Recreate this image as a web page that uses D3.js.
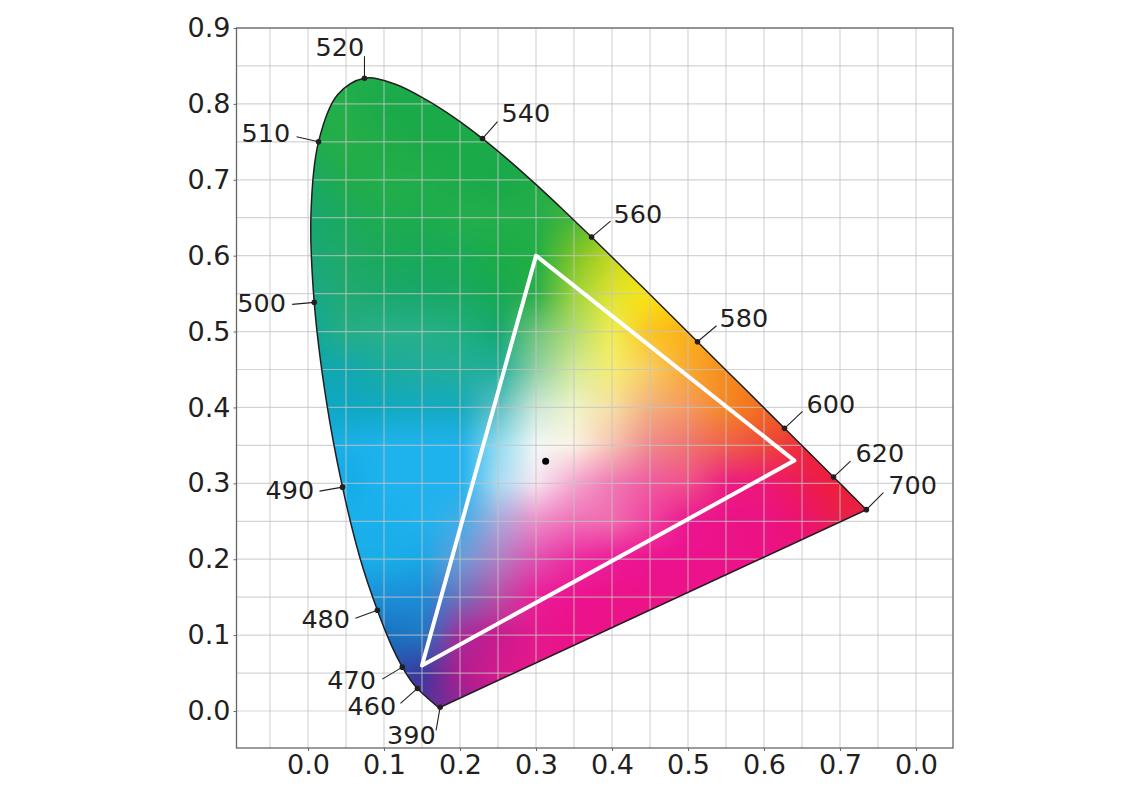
<!DOCTYPE html>
<html><head><meta charset="utf-8">
<script src="https://cdn.jsdelivr.net/npm/d3@7"></script>
<style>html,body{margin:0;padding:0;background:#fff}svg{display:block}text{font-family:"DejaVu Sans",sans-serif;fill:#231f20}</style>
</head><body><svg id="c" width="1140" height="788"></svg>
<script>
const locusX=[.1741,.1738,.1733,.1726,.1714,.1689,.1644,.1566,.1510,.1440,.1355,.1241,.1096,.0913,.0687,.0454,.0235,.0082,.0039,.0139,.0389,.0743,.1142,.1547,.1929,.2296,.2658,.3016,.3373,.3731,.4087,.4441,.4788,.5125,.5448,.5752,.6029,.6270,.6482,.6658,.6915,.7079,.7190,.7347];
const locusY=[.0050,.0049,.0048,.0048,.0051,.0069,.0109,.0177,.0227,.0297,.0399,.0578,.0868,.1327,.2007,.2950,.4127,.5384,.6548,.7502,.8120,.8338,.8262,.8059,.7816,.7543,.7243,.6923,.6589,.6245,.5896,.5547,.5202,.4866,.4544,.4242,.3965,.3725,.3514,.3340,.3083,.2920,.2809,.2653];
const markLabels=["390","460","470","480","490","500","510","520","540","560","580","600","620","700"];
const markX=[.1738,.1440,.1241,.0913,.0454,.0082,.0139,.0743,.2296,.3731,.5125,.6270,.6915,.7347];
const markY=[.0049,.0297,.0578,.1327,.2950,.5384,.7502,.8338,.7543,.6245,.4866,.3725,.3083,.2653];
const gamutX=[.30,.64,.15];
const gamutY=[.60,.33,.06];
const whitePoint=[.3127,.329];
const xTickValues=[0,.1,.2,.3,.4,.5,.6,.7,.8];
const xTickLabels=["0.0","0.1","0.2","0.3","0.4","0.5","0.6","0.7","0.0"];
const yTickValues=[0,.1,.2,.3,.4,.5,.6,.7,.8,.9];
// colours at x = 0, .05 ... .75 (columns) and y = .85, .80 ... 0 (rows)
const colorColumns=[0,.05,.10,.15,.20,.25,.30,.35,.40,.45,.50,.55,.60,.65,.70,.75];
const colorRowsY=[.85,.80,.75,.70,.65,.60,.55,.50,.45,.40,.35,.30,.25,.20,.15,.10,.05,0];
const colorRows=[
"1fae4a 1fae4a 1fae4a 1fae4a 1fae4a 1fae4a 1fae4a 1fae4a 1fae4a 1fae4a 1fae4a 1fae4a 1fae4a 1fae4a 1fae4a 1fae4a",
"22ae4a 22ae4a 1aaa4a 1aaa4a 1caa4a 1caa4a 1caa4a 1caa4a 1caa4a 1caa4a 1caa4a 1caa4a 1caa4a 1caa4a 1caa4a 1caa4a",
"1eac50 26ae48 1fac48 1caa48 1aaa48 1aaa48 1faa48 1faa48 1faa48 1faa48 1faa48 1faa48 1faa48 1faa48 1faa48 1faa48",
"1aa866 20ac4c 22ae4a 20ad4a 1cab4a 18a94a 20ac48 30b03c 30b03c 30b03c 30b03c 30b03c 30b03c 30b03c 30b03c 30b03c",
"16a872 1aaa5c 1fac50 1dab4e 22ae4c 22ae4a 22ae48 45b63a 7cc42a 7cc42a 7cc42a 7cc42a 7cc42a 7cc42a 7cc42a 7cc42a",
"1aa878 1fa966 1aa95a 18a958 18aa54 1aac48 20ae44 7cc428 c4d81e e8e010 e8e010 e8e010 e8e010 e8e010 e8e010 e8e010",
"1aa88a 20aa72 1ba86e 17a86a 1aa960 16a952 2aae48 9ed43a e0e430 fbe60c f8d010 f8d010 f8d010 f8d010 f8d010 f8d010",
"0fa89a 24ae84 28b08a 28b088 1faf80 14a970 70c47c b0dc70 f2ee50 fcc41e fbb015 f8a016 f8a016 f8a016 f8a016 f8a016",
"0ea8b0 12a8b0 1aaba0 1fad9c 22ae9a 20ae9c 8fd0a4 d4ea98 f5ee70 f9cc60 f9a830 f68c1a f47a1c f47a1c f47a1c f47a1c",
"0ea8c4 0ea8c4 12a9c0 14aac4 14aabe 60c0c4 cce8d8 eef4c8 f6e0a4 f3b07c f59a60 f58822 f26a1f f0601e f0601e f0601e",
"1ab0e8 1ab0e8 1fb3ee 1fb3ee 20b2ee 8fdcf0 f2f9f8 fdf2e4 f7c2b2 f0888c f07470 f0604e ee4a3c ee2a3c ec2030 ec2030",
"12ace8 12ace8 1fb3ee 1fb3ee 1eb2ee a8dcf4 f8e6f2 f4a6d0 f078b4 f05aa0 f0508c ec1c84 ee1678 ed1a58 ee1e38 ee2030",
"1ab0ec 1ab0ec 1ab0ec 1fb2ee 40aee8 a8a8dc ee8cc8 f070b8 f06cb0 f040a0 ec1590 ec1288 ec1284 ec1270 e8204c e8204c",
"1aaee8 1aaee8 1aaee8 1aa8e6 6a9cd8 b080c4 e050b0 ee2aa0 ec1a98 ec1290 ec128c ec1288 ec1286 ec1286 ec1286 ec1286",
"1a90d8 1a90d8 1a90d8 1c8cd8 7070bc b850a8 ec1c98 ec1290 ec1288 ec1288 ec1288 ec1288 ec1288 ec1288 ec1288 ec1288",
"1a70c0 1a70c0 1a70c0 1f78c4 a82a98 c81a8e e5188c ec1288 ec1288 ec1288 ec1288 ec1288 ec1288 ec1288 ec1288 ec1288",
"2a50aa 2a50aa 2a50aa 3a389e b01d8e d41a8c e5188c ec1288 ec1288 ec1288 ec1288 ec1288 ec1288 ec1288 ec1288 ec1288",
"3a389e 3a389e 3a389e 5a3099 8a2a98 c01a8c e5188c ec1288 ec1288 ec1288 ec1288 ec1288 ec1288 ec1288 ec1288 ec1288"
];
const W=1140,H=788;
const x=d3.scaleLinear().domain([0,.8]).range([308,916]);
const y=d3.scaleLinear().domain([0,.9]).range([711,28]);
const svg=d3.select("#c");
svg.append("rect").attr("width",W).attr("height",H).attr("fill","#fff");
const xMin=x.invert(236.5),xMax=x.invert(953),yMin=y.invert(748),yMax=.9;
const pts=locusX.map((d,i)=>[x(d),y(locusY[i])]);
const line=d3.line().curve(d3.curveCatmullRom.alpha(.5));
const table=colorRows.map(r=>r.split(" ").map(h=>d3.rgb("#"+h)));
const colIdx=d3.scaleLinear().domain([x(colorColumns[0]),x(colorColumns[colorColumns.length-1])]).range([0,colorColumns.length-1]).clamp(true);
const rowIdx=d3.scaleLinear().domain([y(colorRowsY[0]),y(colorRowsY[colorRowsY.length-1])]).range([0,colorRowsY.length-1]).clamp(true);
const S=3,cv=document.createElement("canvas");cv.width=Math.ceil(W/S);cv.height=Math.ceil(H/S);
const ctx=cv.getContext("2d"),img=ctx.createImageData(cv.width,cv.height);
for(let j=0;j<cv.height;j++)for(let i=0;i<cv.width;i++){
  const px=i*S+S/2,py=j*S+S/2;
  if(px<290||px>880||py<60||py>720)continue;
  const u=colIdx(px),v=rowIdx(py);
  const c0=Math.min(Math.floor(u),colorColumns.length-2),r0=Math.min(Math.floor(v),colorRowsY.length-2);
  const fu=u-c0,fv=v-r0,o=(j*cv.width+i)*4;
  ["r","g","b"].forEach((k,n)=>{
    img.data[o+n]=(1-fv)*((1-fu)*table[r0][c0][k]+fu*table[r0][c0+1][k])+fv*((1-fu)*table[r0+1][c0][k]+fu*table[r0+1][c0+1][k]);
  });
  img.data[o+3]=255;
}
ctx.putImageData(img,0,0);
const areaPath=line(pts)+"Z";
svg.append("clipPath").attr("id","loc").append("path").attr("d",areaPath);
svg.append("image").attr("href",cv.toDataURL()).attr("x",0).attr("y",0).attr("width",cv.width*S).attr("height",cv.height*S).attr("preserveAspectRatio","none").attr("clip-path","url(#loc)");
const gx=d3.range(-.05,.8001,.05),gy=d3.range(0,.9001,.05);
const grid=svg.append("g").attr("stroke","#c4c4c4").attr("stroke-opacity",.72).attr("stroke-width",1.2);
grid.selectAll(".v").data(gx).join("line").attr("x1",d=>x(d)).attr("x2",d=>x(d)).attr("y1",y(yMax)).attr("y2",y(yMin));
grid.selectAll(".h").data(gy).join("line").attr("y1",d=>y(d)).attr("y2",d=>y(d)).attr("x1",x(xMin)).attr("x2",x(xMax));
svg.append("path").attr("d",areaPath).attr("fill","none").attr("stroke","#231f20").attr("stroke-width",1.5);
svg.append("path").attr("d",d3.line()(gamutX.map((d,i)=>[x(d),y(gamutY[i])]))+"Z").attr("fill","none").attr("stroke","#fff").attr("stroke-width",4).attr("stroke-linejoin","round");
svg.append("circle").attr("cx",x(whitePoint[0])).attr("cy",y(whitePoint[1])).attr("r",3.5).attr("fill","#000");
svg.append("rect").attr("x",x(xMin)).attr("y",y(yMax)).attr("width",x(xMax)-x(xMin)).attr("height",y(yMin)-y(yMax)).attr("fill","none").attr("stroke","#666").attr("stroke-width",1.3);
const xAxis=d3.axisBottom(x).tickValues(xTickValues).tickFormat((d,i)=>xTickLabels[i]).tickSize(3).tickPadding(4);
const yAxis=d3.axisLeft(y).tickValues(yTickValues).tickFormat(d3.format(".1f")).tickSize(3).tickPadding(3);
const ax=svg.append("g").attr("transform",`translate(0,${y(yMin)})`).call(xAxis);
const ay=svg.append("g").attr("transform",`translate(${x(xMin)},0)`).call(yAxis);
[ax,ay].forEach(g=>{g.select(".domain").remove();g.selectAll("line").attr("stroke","#666");g.selectAll("text").attr("font-size",27).attr("font-family",'"DejaVu Sans"').attr("fill","#231f20");});
// leader layout: pixel offsets from each marked point to leader end and text anchor
const leaderDX=[-4,-17,-20,-22,-23,-22,-22,0,15,19,19,18,17,17];
const leaderDY=[23,15,12,8,4,2,-5,-22,-17,-16,-16,-17,-16,-17];
const textDX=[-53,-70,-75,-76,-77,-77,-77,-49,19,22,22,22,22,22];
const textDY=[36.5,26.5,21.5,17.5,11.5,9.5,.5,-22.5,-16.5,-14.5,-14.5,-15.5,-15.5,-15.5];
markLabels.forEach((t,i)=>{
  const px=x(markX[i]),py=y(markY[i]);
  svg.append("line").attr("x1",px).attr("y1",py).attr("x2",px+leaderDX[i]).attr("y2",py+leaderDY[i]).attr("stroke","#231f20").attr("stroke-width",1.1);
  svg.append("circle").attr("cx",px).attr("cy",py).attr("r",2.8).attr("fill","#231f20");
  svg.append("text").attr("x",px+textDX[i]).attr("y",py+textDY[i]).attr("font-size",25.5).text(t);
});
</script></body></html>
